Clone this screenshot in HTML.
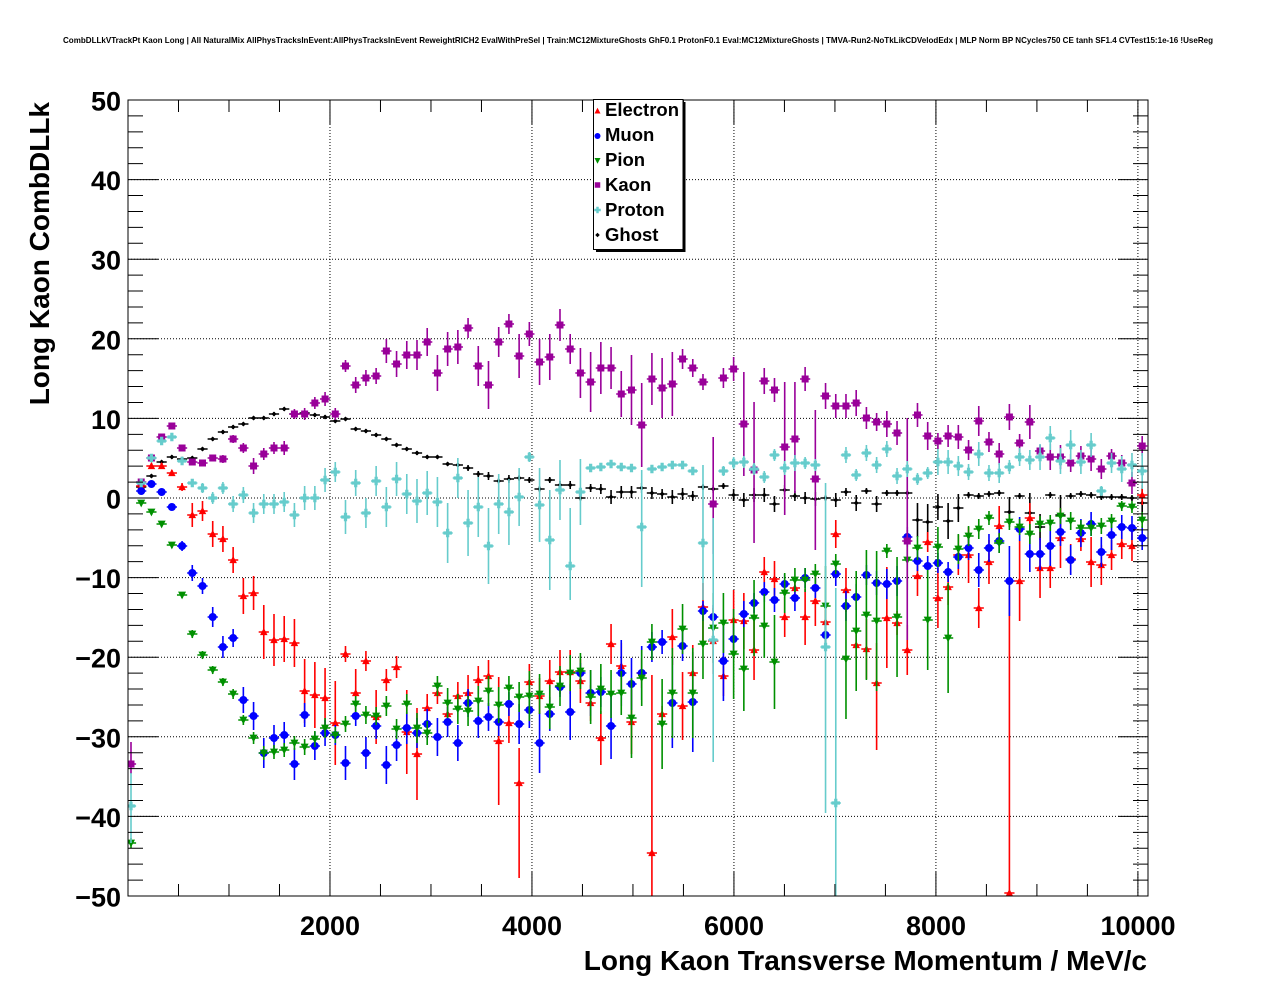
<!DOCTYPE html>
<html>
<head>
<meta charset="utf-8">
<style>
html,body{margin:0;padding:0;background:#fff;}
svg{display:block;}
text{font-family:"Liberation Sans",Arial,Helvetica,sans-serif;font-weight:bold;fill:#000;}
</style>
</head>
<body>
<svg id="svg" xmlns="http://www.w3.org/2000/svg" width="1276" height="996" viewBox="0 0 1276 996">
<rect x="0" y="0" width="1276" height="996" fill="#fff"/>
<defs><clipPath id="fr"><rect x="128" y="100" width="1020" height="796"/></clipPath></defs>
<text x="638" y="43" font-size="8.5" text-anchor="middle" textLength="1150" lengthAdjust="spacingAndGlyphs">CombDLLkVTrackPt Kaon Long | All NaturalMix AllPhysTracksInEvent:AllPhysTracksInEvent ReweightRICH2 EvalWithPreSel | Train:MC12MixtureGhosts GhF0.1 ProtonF0.1 Eval:MC12MixtureGhosts | TMVA-Run2-NoTkLikCDVelodEdx | MLP Norm BP NCycles750 CE tanh SF1.4 CVTest15:1e-16 !UseReg</text>
<g id="grid" stroke="#000" stroke-width="1" stroke-dasharray="1,2" fill="none"></g>
<g id="data" clip-path="url(#fr)"></g>
<rect x="128" y="100" width="1020" height="796" fill="none" stroke="#000" stroke-width="1"/>
<g id="ticks" stroke="#000" stroke-width="1" fill="none"></g>

<!-- axis labels -->
<g font-size="27" text-anchor="middle">
<text x="330" y="935">2000</text>
<text x="532" y="935">4000</text>
<text x="734" y="935">6000</text>
<text x="936" y="935">8000</text>
<text x="1138" y="935">10000</text>
</g>
<g font-size="27" text-anchor="end">
<text x="121" y="110.5">50</text>
<text x="121" y="190.1">40</text>
<text x="121" y="269.7">30</text>
<text x="121" y="349.3">20</text>
<text x="121" y="428.9">10</text>
<text x="121" y="508.5">0</text>
<text x="121" y="588.1">−10</text>
<text x="121" y="667.7">−20</text>
<text x="121" y="747.3">−30</text>
<text x="121" y="826.9">−40</text>
<text x="121" y="906.5">−50</text>
</g>
<text x="1147" y="970" font-size="28" text-anchor="end">Long Kaon Transverse Momentum / MeV/c</text>
<text transform="translate(49,102) rotate(-90)" font-size="28" text-anchor="end">Long Kaon CombDLLk</text>

<!-- legend -->
<rect x="596" y="102" width="89.5" height="150" fill="#000"/>
<rect x="593.5" y="99.5" width="89.5" height="150" fill="#fff" stroke="#000" stroke-width="1"/>
<g id="legm"></g>
<g font-size="18.5">
<text x="605" y="116">Electron</text>
<text x="605" y="141">Muon</text>
<text x="605" y="166">Pion</text>
<text x="605" y="191">Kaon</text>
<text x="605" y="216">Proton</text>
<text x="605" y="241">Ghost</text>
</g>
</svg>
<script>
(function(){
var NS='http://www.w3.org/2000/svg';
function el(tag,a,p){var e=document.createElementNS(NS,tag);for(var k in a)e.setAttribute(k,a[k]);p.appendChild(e);return e;}
function xv(v){return 128+v*1020/10100;}
function yv(v){return 498-v*7.96;}
// grid
var grid=document.getElementById('grid'),d='';
[2000,4000,6000,8000,10000].forEach(function(v){var x=xv(v);d+='M'+x+' 100V896';});
for(var v=-40;v<=40;v+=10){var y=yv(v);d+='M128 '+y+'H1148';}
el('path',{d:d},grid);
// ticks
var t=document.getElementById('ticks');d='';
for(var v=0;v<=10000;v+=500){var x=xv(v);var L=(v%2000===0)?24:12;d+='M'+x+' 896V'+(896-L)+'M'+x+' 100V'+(100+L);}
for(var v=-50;v<=50;v+=2){var y=yv(v);var L=(v%10===0)?30:15;d+='M128 '+y+'H'+(128+L)+'M1148 '+y+'H'+(1148-L);}
el('path',{d:d},t);

function marker(type,x,y,c,s,p){
  if(type==='c'){el('circle',{cx:x,cy:y,r:s/2,fill:c},p);}
  else if(type==='sq'){el('rect',{x:x-s/2,y:y-s/2,width:s,height:s,fill:c},p);}
  else if(type==='tu'){el('polygon',{points:x+','+(y-s*0.55)+' '+(x+s/2)+','+(y+s*0.42)+' '+(x-s/2)+','+(y+s*0.42),fill:c},p);}
  else if(type==='td'){el('polygon',{points:(x-s/2)+','+(y-s*0.42)+' '+(x+s/2)+','+(y-s*0.42)+' '+x+','+(y+s*0.55),fill:c},p);}
  else if(type==='x'){var a=s/2,b=s*0.19;el('polygon',{points:[[x-b,y-a],[x+b,y-a],[x+b,y-b],[x+a,y-b],[x+a,y+b],[x+b,y+b],[x+b,y+a],[x-b,y+a],[x-b,y+b],[x-a,y+b],[x-a,y-b],[x-b,y-b]].map(function(q){return q[0]+','+q[1];}).join(' '),fill:c},p);}
  else if(type==='d'){var a=s/2;el('polygon',{points:x+','+(y-a)+' '+(x+a)+','+y+' '+x+','+(y+a)+' '+(x-a)+','+y,fill:c},p);}
}

var E=[null,[486,3],[466,3],[466,3],[473,3],[487,4],[515,12],[511,10],[534,13],[539,13],
[560,13],[596,18],[593,17],[632,27],[640,26],[639,23],[643,24],[691,32],[695,33],[698,30],
[723,42],[654,8],[693,24],[661,10],[717,27],[680,11],[667,11],[732,42],[754,46],[708,14],
[693,11],[714,11],[696,14],[693,18],[680,14],[676,16],[741,64],[723,20],[783,35,95],[682,18],
[696,18],[681,21],[672,22],[672,22],[681,22],[703,18],[738,27],[644,20],[666,23],[722,32],
[673,15],[853,178,43],[714,8],[637,28],[706,34],[673,28],[607,24,36],[641,33],[676,20],[620,30],
[621,28],[650,30],[572,15],[579,18],[617,20],[588,10],[617,28],[601,25],[622,12],[534,14],
[590,22],[645,15],[649,30],[683,40,67],[618,51,50],[623,12],[650,25],[576,20],[542,10],[598,30],
[587,18],[555,20],[555,28],[608,20],[562,22],[526,20],[893,303,3],[581,40],[518,15],[568,30],
[568,20],[538,30],[559,15],[539,12],[562,25],[565,20],[555,15],[544,15],[546,15],[495,10]];
var M=[null,[491,3],[484,3],[492,3],[507,3],[546,5],[573,8],[586,8],[617,10],[647,11],
[638,9],[700,13],[716,14],[753,15],[738,13],[735,13],[764,16],[715,12],[746,14],[733,13],
[735,10],[763,17],[716,10],[753,16],[726,13],[765,19],[745,16],[728,16],[733,15],[724,15],
[737,19],[722,15],[743,18],[703,14],[721,17],[717,14],[722,14],[704,12],[724,20],[710,18],
[743,30],[714,17],[687,10],[712,28],[673,10],[693,23],[692,15],[726,33],[673,33],[684,26],
[673,27],[647,15],[642,12],[703,45],[646,15],[702,50],[611,10],[617,12],[661,40],[639,15],
[614,13],[603,10],[592,10],[600,12],[584,10],[598,13],[578,10],[588,10],[635,13],[574,12],
[606,15],[597,13],[575,10],[583,12],[584,15],[581,15],[537,10],[561,10],[566,10],[563,10],
[572,10],[557,12],[548,12],[570,17],[548,14],[541,12],[581,35],[529,12],[554,18],[554,16],
[546,20],[532,14],[560,15],[533,14],[524,12],[552,15],[535,15],[527,12],[528,12],[538,12]];
var P=[[843,5],[503,3],[512,3],[524,3],[545,3],[595,3],[634,4],[655,4],[670,4],[682,4],
[694,5],[720,5],[738,6],[753,7],[752,7],[750,7],[743,7],[747,8],[739,8],[728,10],
[735,8],[724,8],[704,8],[715,9],[716,9],[706,10],[729,10],[704,10],[728,15],[733,12],
[686,10],[703,15],[709,15],[711,15],[701,15],[691,15],[705,18],[688,12],[697,15],[696,25],
[694,20],[707,22],[686,20],[673,18],[671,18],[697,27],[689,25],[694,24],[693,22],[718,40],
[678,28],[642,18],[724,45],[693,45],[629,25],[693,45],[644,35],[628,35],[623,30],[654,45],
[669,42],[618,38],[626,32],[662,47],[593,20],[580,12],[580,12],[574,10],[606,40],[564,10],
[659,60],[631,60],[615,65],[621,70],[551,7],[617,60],[560,30],[548,12],[620,50],[547,20],
[638,55],[549,15],[536,10],[529,10],[518,7],[543,10],[522,8],[527,8],[534,10],[524,8],
[523,8],[516,8],[521,9],[528,8],[528,8],[526,8],[521,7],[506,5],[507,6],[520,8]];
var K=[[764,22,10],[482,3],[458,3],[437,3],[426,3],[448,3],[462,3],[463,3],[458,3],[459,4],
[439,4],[448,5],[466,8],[454,6],[448,6],[448,7],[414,5],[414,6],[403,6],[399,7],
[414,6],[366,6],[385,8],[378,8],[376,8],[351,12],[364,13],[355,14],[355,15],[342,14],
[373,18],[349,17],[347,17],[328,10],[366,20],[385,24],[342,15],[324,10],[356,22],[334,12],
[362,23],[357,23],[325,16],[349,15],[373,25],[382,30],[368,26],[368,21],[394,23],[390,35],
[425,42],[379,26],[388,30],[384,32],[359,10],[368,9],[382,8],[504,67,50],[378,10],[369,12],
[424,52],[470,68,73],[381,13],[390,12],[447,65,68],[439,57,54],[379,12],[479,69,71],[396,13],[406,12],
[406,12],[403,13],[418,11],[422,9],[424,13],[433,12],[541,123,99],[415,12],[436,14],[441,8],
[436,11],[437,12],[450,10],[421,15],[442,10],[454,11],[417,13],[443,9],[422,17],[451,6],
[457,13],[457,12],[463,9],[456,10],[459,12],[469,10],[456,7],[463,8],[483,11],[446,10]];
var R=[[806,33,37],[483,3],[458,3],[441,3],[437,3],[461,3],[483,3],[488,5],[498,6],[488,6],
[504,8],[495,8],[513,10],[504,10],[504,10],[502,10],[515,12],[498,12],[498,12],[480,12],
[472,10],[517,17],[483,13],[513,15],[481,15],[507,20],[479,17],[494,20],[501,22],[493,22],
[502,25],[533,30],[478,20],[523,33],[507,30],[546,38],[504,30],[512,33],[497,29],[457,5],
[505,37],[540,50],[490,30],[566,58,34],[492,33],[468,4],[467,4],[464,4],[467,4],[468,4],
[527,57,60],[469,4],[467,4],[465,4],[465,4],[471,4],[543,78,57],[640,122,122],[471,5],[463,6],
[462,6],[469,6],[477,6],[455,6],[468,7],[463,8],[463,6],[465,6],[647,164,166],[803,215,93],
[455,8],[475,6],[453,8],[465,8],[449,8],[476,8],[469,8],[479,6],[473,6],[462,13],
[462,12],[466,10],[472,8],[454,12],[473,8],[473,10],[467,7],[457,9],[460,10],[457,13],
[438,12],[461,13],[445,15],[462,12],[445,12],[491,5],[463,10],[469,13],[465,12],[471,18]];
var G=[null,[487,2],[476,2],[462,2],[457,2],[459,2],[458,2],[449,2],[439,2],[432,2],
[427,2],[424,2],[418,2],[418,2],[414,2],[409,2],[414,2],[413,2],[415,2],[417,2],
[421,2],[419,2],[429,2],[431,2],[435,2],[439,2],[445,2],[449,2],[453,2],[457,2],
[457,2],[464,2],[465,2],[468,3],[474,3],[476,4],[481,3],[479,4],[478,3],[480,3],
[489,3],[480,3],[485,4],[485,4],[498,3],[488,4],[489,5],[497,7],[492,6],[492,6],
[488,5],[493,6],[494,5],[497,7],[494,6],[496,5],[487,3],[489,4],[486,3],[495,6],
[500,7],[495,7],[495,7],[504,8],[490,5],[496,5],[498,6],[499,7],[498,3],[500,7],
[492,4],[503,8],[491,3],[504,8],[493,3],[493,3],[493,3],[520,17],[522,18],[507,13],
[521,18],[508,14],[495,3],[496,3],[494,3],[493,3],[512,15],[496,3],[513,20],[527,13],
[495,3],[515,20],[496,3],[494,3],[495,3],[497,3],[497,3],[497,3],[498,3],[503,15]];

var series=[
 {d:G,c:'#000000',t:'d',s:5},
 {d:E,c:'#ff0000',t:'tu',s:7.5},
 {d:M,c:'#0000ff',t:'c',s:8},
 {d:P,c:'#009000',t:'td',s:8},
 {d:K,c:'#990099',t:'sq',s:7},
 {d:R,c:'#66cccc',t:'x',s:8.5}
];
var data=document.getElementById('data');
series.forEach(function(S){
  var g=el('g',{},data);var pd='';
  S.d.forEach(function(p,k){ if(!p)return; var x=131+10.214*k; var y=p[0]; var up=p[1], dn=(p.length>2?p[2]:p[1]);
    pd+='M'+(x-5.1)+' '+y+'H'+(x+5.1)+'M'+x+' '+(y-up)+'V'+(y+dn);});
  el('path',{d:pd,stroke:S.c,'stroke-width':1.6,fill:'none'},g);
  S.d.forEach(function(p,k){ if(!p)return; var x=131+10.214*k; marker(S.t,x,p[0],S.c,S.s,g);});
});
// legend markers
var lg=document.getElementById('legm');
marker('tu',597.5,111,'#ff0000',6,lg);
marker('c',597.5,136,'#0000ff',6,lg);
marker('td',597.5,160.5,'#009000',6,lg);
marker('sq',597.5,185,'#990099',5.5,lg);
marker('x',597.5,210,'#66cccc',6.5,lg);
marker('d',597.5,235,'#000000',4.5,lg);
})();
</script>
</body>
</html>
